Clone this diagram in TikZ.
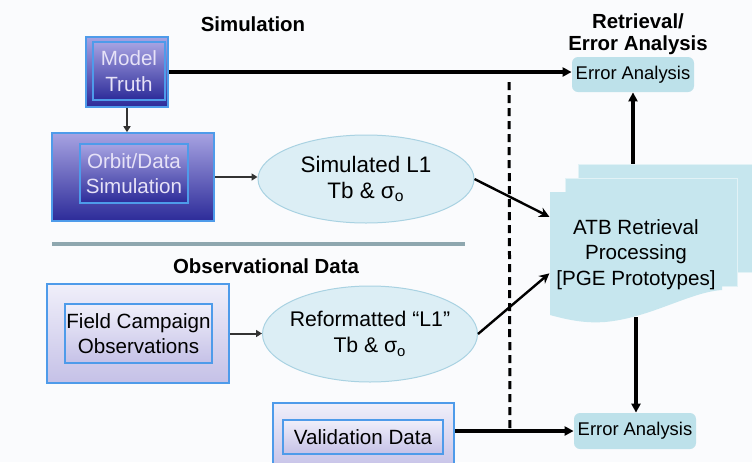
\documentclass[tikz,border=0pt]{standalone}
\usepackage{fontspec}
\setmainfont{Liberation Sans}
\usepackage{tikz}
\usetikzlibrary{arrows.meta,positioning,shapes.geometric,calc}
\definecolor{bgcol}{HTML}{FAFBFD}
\definecolor{truthtop}{HTML}{A7A3E2}
\definecolor{truthbot}{HTML}{2C2B99}
\definecolor{truthtext}{HTML}{E6E2F7}
\definecolor{fieldtop}{HTML}{F0EFFA}
\definecolor{fieldbot}{HTML}{C5C1E7}
\definecolor{boxline}{HTML}{4E9BEA}
\definecolor{ellfill}{HTML}{DCEEF5}
\definecolor{ellline}{HTML}{A9D2E2}
\definecolor{errfill}{HTML}{BDE1EA}
\definecolor{atbfill}{HTML}{C6E6EE}
\definecolor{pageline}{HTML}{E2F2F6}
\definecolor{sepline}{HTML}{8EA7AF}
\newcommand{\diagbody}{\fontsize{10.3}{12.8}\selectfont}
\newcommand{\diagbig}{\fontsize{11.2}{12.8}\selectfont}
\newcommand{\diagmid}{\fontsize{10.6}{13}\selectfont}
\newcommand{\diaghead}{\fontsize{10.2}{11}\selectfont\bfseries}
\newcommand{\diagerr}{\fontsize{9.2}{11}\selectfont}

\begin{document}
\begin{tikzpicture}[
    x=0.5pt, y=-0.5pt,
    outerbox/.style={rectangle, draw=boxline, line width=0.8pt, inner sep=0pt},
    darkbox/.style={outerbox, top color=truthtop, bottom color=truthbot},
    lightbox/.style={outerbox, top color=fieldtop, bottom color=fieldbot},
    innerdark/.style={darkbox, line width=0.6pt, align=center, font=\diagbody, text=truthtext},
    innerlight/.style={lightbox, line width=0.6pt, align=center, font=\diagbody},
    product/.style={ellipse, fill=ellfill, draw=ellline, line width=0.5pt,
                    align=center, font=\diagbody, inner xsep=-14pt, inner ysep=-4pt},
    errbox/.style={rectangle, rounded corners=3pt, fill=errfill, font=\diagerr, inner sep=0pt},
    page/.style={rectangle, fill=atbfill, draw=pageline, line width=0.5pt, inner sep=0pt},
    heading/.style={font=\diaghead, align=center},
    arrow/.style={-{Triangle[length=4.5pt,width=4.5pt]}, line width=2pt},
    thinarrow/.style={-{Triangle[length=3pt,width=3.5pt]}, line width=1pt, color=black!80},
    slantarrow/.style={-{Stealth[length=5pt,width=5pt]}, line width=1.2pt},
    divider/.style={line width=1.5pt, dash pattern=on 4pt off 2.5pt},
]

% ── canvas ─────────────────────────────────────────────────────────────
\fill[bgcol] (0,0) rectangle (752,462);
\useasboundingbox (0,0) rectangle (752,462);

% ── section headings ───────────────────────────────────────────────────
\node[heading] (simhead) at (253,24)  {Simulation};
\node[heading] (obshead) at (266,266) {Observational Data};
\node[heading] (rethead) at (638,34)  {Retrieval/\\Error Analysis};

% ── Simulation branch ──────────────────────────────────────────────────
\node[darkbox, minimum width=41pt, minimum height=35pt] (truth) at (127,72) {};
\node[innerdark, minimum width=36pt, minimum height=29pt] (truthin) at (129,71) {Model\\Truth};
\node[darkbox, minimum width=81pt, minimum height=44pt] (orbit) at (133,177) {};
\node[innerdark, minimum width=54pt, minimum height=29.5pt] (orbitin) at (134,173.5) {Orbit/Data\\Simulation};
\node[product, font=\diagbig, minimum width=108pt, minimum height=44pt] (siml1) at (366,179) {Simulated L1\\Tb \& σ\textsubscript{o}};

% ── Observational branch ───────────────────────────────────────────────
\node[lightbox, minimum width=91pt, minimum height=49.5pt] (field) at (138,333.5) {};
\node[innerlight, minimum width=73.5pt, minimum height=29.5pt] (fieldin) at (138.5,333.5) {Field Campaign\\Observations};
\node[product, font=\diagmid, minimum width=107.5pt, minimum height=48pt] (refl1) at (370,334) {Reformatted “L1”\\Tb \& σ\textsubscript{o}};
\node[lightbox, minimum width=90.5pt, minimum height=33.5pt] (valid) at (363.5,436.5) {};
\node[innerlight, minimum width=80pt, minimum height=17pt] (validin) at (363,437) {Validation Data};

% ── Retrieval / error analysis ─────────────────────────────────────────
\node[errbox, minimum width=61pt, minimum height=17.5pt] (errtop) at (633,74.5) {Error Analysis};
\node[errbox, minimum width=61pt, minimum height=18pt]   (errbot) at (635,431)  {Error Analysis};

\node[page, minimum width=87pt, minimum height=54pt] (atbback) at (665,218) {};
\node[page, minimum width=86pt, minimum height=54pt] (atbmid)  at (651,232) {};
\fill[atbfill] (550,192) -- (722,192) -- (722,290)
    .. controls (690,292) and (650,318) .. (605,322)
    .. controls (590,323) and (575,322) .. (550,315) -- cycle;
\node[minimum width=86pt, minimum height=62.5pt, align=center, font=\diagbody] (atb) at (636,254.5)
    {ATB Retrieval\\Processing\\{[PGE Prototypes]}};

% ── separators ─────────────────────────────────────────────────────────
\draw[sepline, line width=2pt] (52,244) -- (465,244);
\draw[divider] (509,82) -- (510,428);

% ── connectors ─────────────────────────────────────────────────────────
\draw[arrow] (truth.east) -- (truth.east -| errtop.west);
\draw[thinarrow] (truth.south) -- (truth.south |- orbit.north);
\draw[thinarrow] (orbit.east) -- (orbit.east -| siml1.west);
\draw[thinarrow] (field.east) -- (field.east -| refl1.west);
\draw[slantarrow] (siml1.east) -- ($(atb.west)!0.6!(atb.north west)$);
\draw[slantarrow] (refl1.east) -- ($(atb.west)!0.3!(atb.south west)$);
\draw[arrow] (errtop.south |- atbback.north) -- (errtop.south);
\draw[arrow] (atb.south) -- (atb.south |- errbot.north);
\draw[arrow] (valid.east |- errbot.west) -- (errbot.west);

\end{tikzpicture}
\end{document}
